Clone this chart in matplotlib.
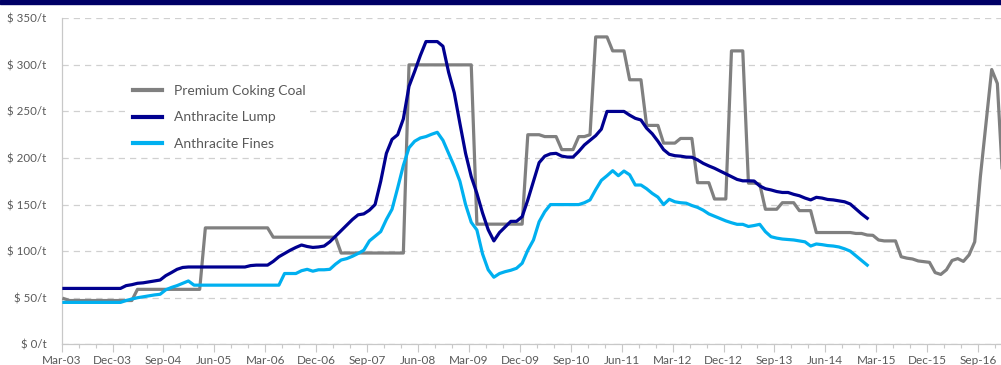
import matplotlib
matplotlib.use('Agg')
from matplotlib import pyplot as plt
from matplotlib.ticker import MultipleLocator, FixedLocator, FuncFormatter
import numpy as np

plt.rcParams['font.family'] = ['Lato', 'DejaVu Sans']

# monthly prices, first point = Mar-03
coking_coal = ([49] + [47]*12 + [59]*12 + [125]*12 + [115]*12 + [98]*12 + [300]*12
               + [129]*9 + [225]*3 + [223]*3 + [209]*3 + [223, 223, 225]
               + [330]*3 + [315]*3 + [284]*3 + [235]*3 + [216]*3 + [221]*3
               + [173.5]*3 + [156]*3 + [315]*3 + [173, 173, 172] + [145]*3
               + [152]*3 + [143.5]*3 + [120]*7 + [119, 119, 117.3, 117]
               + [112, 111, 111, 111, 94, 92.5, 91.6, 89.5, 88.7, 88, 77, 75,
                  80, 90, 92, 89, 96, 110, 180, 237, 295, 280, 170])

anthracite_lump = ([60]*11 + [63, 64, 65.5, 66, 67, 68, 69, 73.7, 77, 80.5, 82.5]
                   + [83]*11 + [84.5, 85, 85, 85]
                   + [89, 94, 97.5, 101, 104, 106.6, 105, 104, 104.5, 105.5,
                      110, 116, 122, 128, 134, 139, 140, 144, 150, 175,
                      205, 220, 225, 242, 277, 293, 310, 325, 325, 325,
                      320, 292, 270, 237, 205, 180, 162, 141, 123, 111,
                      120, 126, 132, 132, 137, 155, 175, 195, 202, 204.5,
                      205, 202, 201, 201, 207, 214, 219, 224, 231, 250,
                      250, 250, 250, 246, 242.6, 240.8, 232, 226, 218, 209,
                      204, 202.5, 202, 201, 200.8, 198, 194.3, 191.5, 189, 186,
                      183, 180, 177, 175.5, 175.5, 175.3, 170, 167, 165.7, 164,
                      163, 163, 161, 159.5, 157, 155, 157.8, 157, 155.5, 155,
                      154, 153, 150.6, 145.3, 140, 135.3])

anthracite_fines = ([45]*11 + [47, 48.6, 50, 51, 52, 53, 53.7, 58.5, 61, 63, 65.5, 68]
                    + [63.5]*16
                    + [76, 76, 76, 79, 80.5, 78.5, 80, 80, 80.5, 86,
                       90.5, 92, 94.5, 97.5, 101, 111, 116, 121, 134, 145,
                       168, 192, 211, 218, 221.5, 223, 225.5, 227.6, 219, 205,
                       191, 175, 150, 131, 122.7, 97, 80, 72, 76, 78,
                       79.5, 81.6, 87, 101, 112, 131.6, 142.4, 150, 150, 150,
                       150, 150, 150, 152, 155, 166, 176, 181, 186.4, 181,
                       186, 182, 171, 171, 167, 162, 158, 150, 155.7, 153,
                       152, 151.5, 149, 147, 144, 140, 137.5, 135, 132.5, 130.5,
                       128.8, 128.8, 126.5, 127.5, 128.8, 120.9, 115.5, 114, 113, 112.5,
                       112, 111, 110, 105.5, 107.7, 107, 106, 105.5, 104.5, 102.5,
                       100, 95, 90, 85])

tick_labels = ['Mar-03', 'Dec-03', 'Sep-04', 'Jun-05', 'Mar-06', 'Dec-06', 'Sep-07',
               'Jun-08', 'Mar-09', 'Dec-09', 'Sep-10', 'Jun-11', 'Mar-12', 'Dec-12',
               'Sep-13', 'Jun-14', 'Mar-15', 'Dec-15', 'Sep-16']

GREY = '#808080'
NAVY = '#000090'
SKY = '#00B0F0'

fig = plt.figure(figsize=(10.01, 3.65), dpi=100)
# navy strip at the top
fig.patches.append(plt.Rectangle((0, 0.989), 1, 0.011, transform=fig.transFigure,
                                 color='#000066', zorder=0))

ax = fig.add_axes([0.0616, 0.0567, 0.9664, 0.8932])

# mid-month positions
def months(vals):
    return np.arange(len(vals)) + 0.4

ax.plot(months(coking_coal), coking_coal, color=GREY, lw=2.3, label='Premium Coking Coal',
        solid_joinstyle='round', zorder=3)
ax.plot(months(anthracite_lump), anthracite_lump, color=NAVY, lw=2.3, label='Anthracite Lump',
        solid_joinstyle='round', zorder=4)
ax.plot(months(anthracite_fines), anthracite_fines, color=SKY, lw=2.3, label='Anthracite Fines',
        solid_joinstyle='round', zorder=4)

ax.set_xlim(0, 171)
ax.set_ylim(0, 350)

ax.xaxis.set_major_locator(FixedLocator(np.arange(len(tick_labels)) * 9))
ax.set_xticklabels(tick_labels)
ax.xaxis.set_minor_locator(MultipleLocator(3))
ax.yaxis.set_major_locator(MultipleLocator(50))
ax.yaxis.set_major_formatter(FuncFormatter(lambda v, p: '$ %d/t' % v))

ax.tick_params(axis='x', which='major', length=6, width=0.8, color='#c8c8c8',
               labelsize=8.5, labelcolor='#595959', pad=1.5)
ax.tick_params(axis='x', which='minor', length=3, width=0.8, color='#c8c8c8')
ax.tick_params(axis='y', length=0, labelsize=8.3, labelcolor='#595959', pad=11)

for s in ['top', 'right']:
    ax.spines[s].set_visible(False)
ax.spines['left'].set_color('#c8c8c8')
ax.spines['bottom'].set_color('#c8c8c8')
ax.spines['left'].set_linewidth(0.9)
ax.spines['bottom'].set_linewidth(0.9)

ax.grid(axis='y', color='#d0d0d0', linestyle=(0, (5, 4)), linewidth=0.9)
ax.set_axisbelow(True)

leg = ax.legend(loc='upper left', bbox_to_anchor=(0.129, 0.779), bbox_transform=fig.transFigure,
                frameon=True, fontsize=10, handlelength=2.1, handletextpad=0.8,
                labelspacing=1.05, borderpad=0.3, borderaxespad=0)
leg.get_frame().set_facecolor('white')
leg.get_frame().set_edgecolor('none')
leg.get_frame().set_alpha(1)
for t in leg.get_texts():
    t.set_color('#595959')
for h in leg.get_lines():
    h.set_linewidth(3)

fig.savefig('out.png', dpi=100)
